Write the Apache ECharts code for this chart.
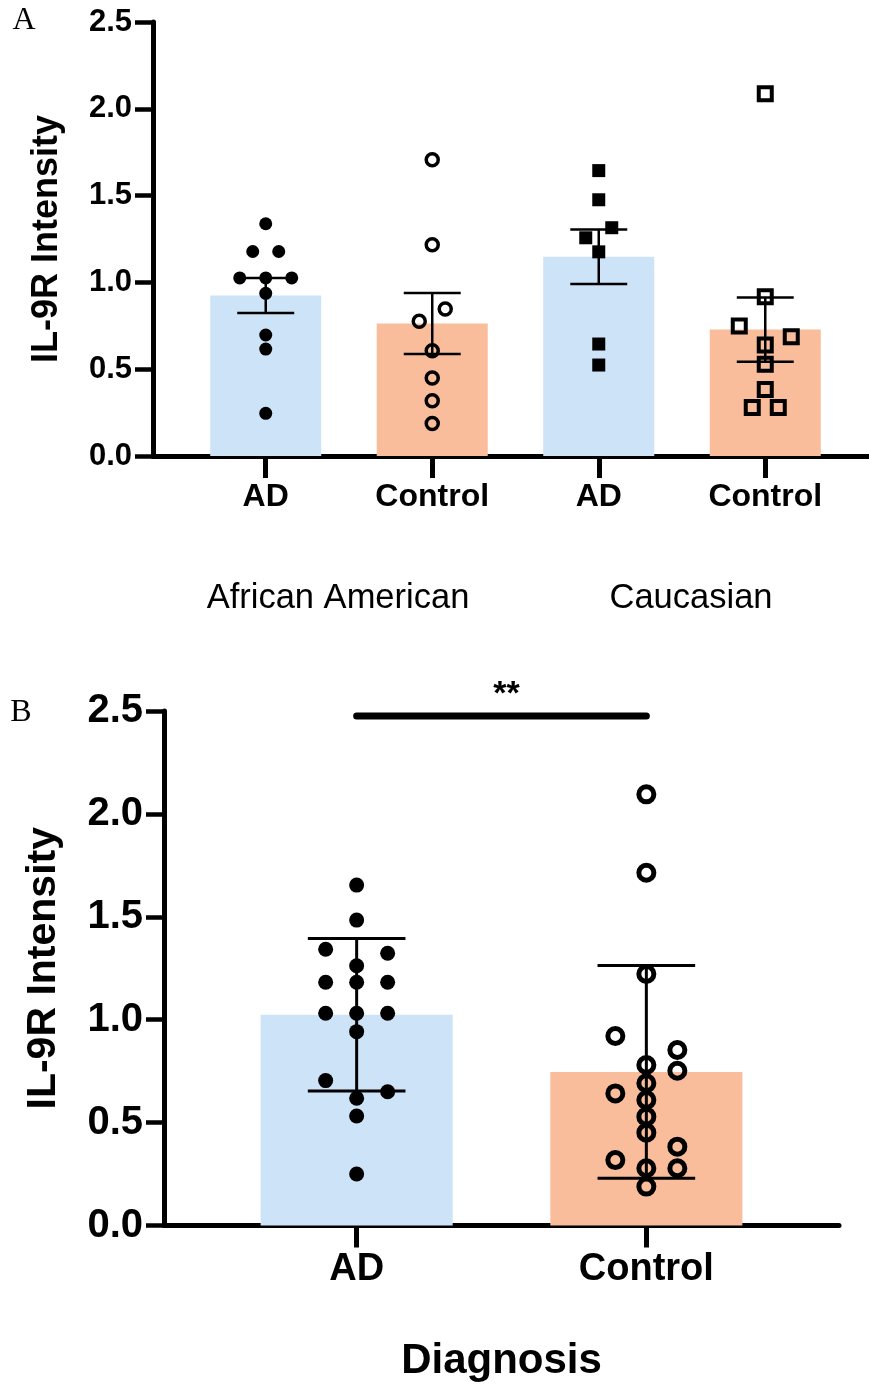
<!DOCTYPE html>
<html>
<head>
<meta charset="utf-8">
<script src="https://cdn.jsdelivr.net/npm/echarts@6/dist/echarts.min.js"></script>
<style>
  html, body { margin: 0; padding: 0; background: #fff; }
  #chart { width: 869px; height: 1384px; }
</style>
</head>
<body>
<div id="chart"></div>
<script>
// ---- panel A: by race ----
var groupsA = ['AD', 'Control', 'AD', 'Control'];
var raceLabels = ['African American', 'Caucasian'];
var meanA = [0.925, 0.763, 1.148, 0.728];
var semA = [0.101, 0.176, 0.157, 0.185];
// individual points (value) and their swarm column (slot)
var aaAD = [1.338, 1.178, 1.178, 1.026, 1.026, 1.026, 0.937, 0.697, 0.616, 0.246];
var aaADSlot = [0, -1, 1, -2, 0, 2, 0, 0, 0, 0];
var aaCtrl = [1.707, 1.217, 0.847, 0.776, 0.606, 0.449, 0.318, 0.187];
var aaCtrlSlot = [0, 0, 1, -1, 0, 0, 0, 0];
var caAD = [1.644, 1.476, 1.315, 1.257, 1.176, 0.645, 0.524];
var caADSlot = [0, 0, 1, -1, 0, 0, 0];
var caCtrl = [2.086, 0.918, 0.749, 0.687, 0.639, 0.529, 0.383, 0.279, 0.279];
var caCtrlSlot = [0, 0, -2, 2, 0, 0, 0, -1, 1];

// ---- panel B: pooled ----
var groupsB = ['AD', 'Control'];
var meanB = [1.024, 0.746];
var sdB = [0.370, 0.517];
var allAD = [1.654, 1.484, 1.342, 1.323, 1.262, 1.182, 1.182, 1.182, 1.031, 1.031, 1.031, 0.942, 0.704, 0.650, 0.618, 0.532, 0.250];
var allADSlot = [0, 0, -1, 1, 0, -1, 0, 1, -1, 0, 1, 0, -1, 1, 0, 0, 0];
var allCtrl = [2.095, 1.714, 1.222, 0.921, 0.853, 0.752, 0.780, 0.691, 0.642, 0.610, 0.529, 0.451, 0.383, 0.318, 0.278, 0.278, 0.189];
var allCtrlSlot = [0, 0, 0, -1, 1, 1, 0, 0, -1, 0, 0, 0, 1, -1, 0, 1, 0];
var sigPair = [0, 1];
var sigLevel = 2.476;
var sigText = '**';

var barColors = ['#CCE3F8', '#F9BD9B'];
var FONT = '"Liberation Sans", Arial, sans-serif';

function barItems(means) {
  return means.map(function (m, i) { return [i, m]; });
}
function errItems(means, errs) {
  return means.map(function (m, i) { return [i, m - errs[i], m + errs[i]]; });
}
function pointItems(gi, vals, slots, step) {
  return vals.map(function (v, i) {
    return { value: [gi, v], symbolOffset: [slots[i] * step, 0] };
  });
}

function makeBarRender(frac) {
  return function (params, api) {
    var top = api.coord([api.value(0), api.value(1)]);
    var base = api.coord([api.value(0), 0]);
    var w = api.size([frac, 0])[0];
    return {
      type: 'rect',
      shape: { x: top[0] - w / 2, y: top[1], width: w, height: base[1] - top[1] },
      style: { fill: barColors[params.dataIndex % 2] }
    };
  };
}
function makeErrRender(frac, lw) {
  return function (params, api) {
    var lo = api.coord([api.value(0), api.value(1)]);
    var hi = api.coord([api.value(0), api.value(2)]);
    var hw = api.size([frac, 0])[0] / 2;
    var st = { stroke: '#000', lineWidth: lw };
    return {
      type: 'group',
      children: [
        { type: 'line', shape: { x1: lo[0], y1: lo[1], x2: hi[0], y2: hi[1] }, style: st },
        { type: 'line', shape: { x1: hi[0] - hw, y1: hi[1], x2: hi[0] + hw, y2: hi[1] }, style: st },
        { type: 'line', shape: { x1: lo[0] - hw, y1: lo[1], x2: lo[0] + hw, y2: lo[1] }, style: st }
      ]
    };
  };
}

function yAxisCfg(gi, tickSize, nameSize, nameGap) {
  return {
    type: 'value', gridIndex: gi, min: 0, max: 2.5, interval: 0.5,
    name: 'IL-9R Intensity', nameLocation: 'middle', nameRotate: 90, nameGap: nameGap,
    nameTextStyle: { fontFamily: FONT, fontWeight: 'bold', fontSize: nameSize, color: '#000' },
    axisLine: { show: true, onZero: false, lineStyle: { color: '#000', width: 5 } },
    axisTick: { show: true, length: 18, lineStyle: { color: '#000', width: 4.5 } },
    axisLabel: {
      fontFamily: FONT, fontWeight: 'bold', fontSize: tickSize, color: '#000', margin: 21,
      formatter: function (v) { return v.toFixed(1); }
    },
    splitLine: { show: false }
  };
}
function xAxisCfg(gi, min, max, cats, labelSize) {
  var idx = cats.map(function (c, i) { return i; });
  return {
    type: 'value', gridIndex: gi, min: min, max: max,
    axisLine: { show: true, onZero: false, lineStyle: { color: '#000', width: 5 } },
    axisTick: { show: true, customValues: idx, length: 22, lineStyle: { color: '#000', width: 5 } },
    axisLabel: {
      customValues: idx, margin: 25,
      fontFamily: FONT, fontWeight: 'bold', fontSize: labelSize, color: '#000',
      formatter: function (v) { return cats[Math.round(v)]; }
    },
    splitLine: { show: false }
  };
}

var chart = echarts.init(document.getElementById('chart'), null, { renderer: 'canvas' });

var xB = xAxisCfg(1, -0.665, 1.665, groupsB, 38);
xB.name = 'Diagnosis';
xB.nameLocation = 'middle';
xB.nameGap = 115;
xB.nameTextStyle = { fontFamily: FONT, fontWeight: 'bold', fontSize: 42, color: '#000' };

var solid = { color: '#000', opacity: 1 };
function hollow(bw) {
  return { color: 'rgba(0,0,0,0)', borderColor: '#000', borderWidth: bw, opacity: 1 };
}

var option = {
  backgroundColor: '#fff',
  animation: false,
  grid: [
    { left: 153, top: 22, width: 716, height: 434, outerBoundsMode: 'none' },
    { left: 164, top: 711, width: 675, height: 514.5, outerBoundsMode: 'none' }
  ],
  xAxis: [xAxisCfg(0, -0.677, 3.623, groupsA, 32), xB],
  yAxis: [yAxisCfg(0, 31, 36, 88), yAxisCfg(1, 40, 41, 100)],
  graphic: [
    { type: 'text', x: 24, y: 21, style: { text: 'A', font: '32px "Liberation Serif", serif', fill: '#000', align: 'center', verticalAlign: 'middle' } },
    { type: 'text', x: 21, y: 713, style: { text: 'B', font: '32px "Liberation Serif", serif', fill: '#000', align: 'center', verticalAlign: 'middle' } },
    { type: 'text', x: 338, y: 598, style: { text: raceLabels[0], font: '34.5px ' + FONT, fill: '#000', align: 'center', verticalAlign: 'middle' } },
    { type: 'text', x: 691, y: 598, style: { text: raceLabels[1], font: '34.5px ' + FONT, fill: '#000', align: 'center', verticalAlign: 'middle' } }
  ],
  series: [
    // panel A
    { type: 'custom', xAxisIndex: 0, yAxisIndex: 0, z: 1, renderItem: makeBarRender(2 / 3), data: barItems(meanA) },
    { type: 'custom', xAxisIndex: 0, yAxisIndex: 0, z: 2, renderItem: makeErrRender(0.342, 2.5), data: errItems(meanA, semA) },
    { type: 'scatter', xAxisIndex: 0, yAxisIndex: 0, z: 3, symbol: 'circle', symbolSize: 13,
      itemStyle: solid, data: pointItems(0, aaAD, aaADSlot, 13) },
    { type: 'scatter', xAxisIndex: 0, yAxisIndex: 0, z: 3, symbol: 'circle', symbolSize: 12,
      itemStyle: hollow(3.5), data: pointItems(1, aaCtrl, aaCtrlSlot, 13) },
    { type: 'scatter', xAxisIndex: 0, yAxisIndex: 0, z: 3, symbol: 'rect', symbolSize: 13,
      itemStyle: solid, data: pointItems(2, caAD, caADSlot, 13) },
    { type: 'scatter', xAxisIndex: 0, yAxisIndex: 0, z: 3, symbol: 'rect', symbolSize: 13,
      itemStyle: hollow(4), data: pointItems(3, caCtrl, caCtrlSlot, 13) },
    // panel B
    { type: 'custom', xAxisIndex: 1, yAxisIndex: 1, z: 1, renderItem: makeBarRender(0.663), data: barItems(meanB) },
    { type: 'custom', xAxisIndex: 1, yAxisIndex: 1, z: 2, renderItem: makeErrRender(0.337, 3), data: errItems(meanB, sdB) },
    { type: 'scatter', xAxisIndex: 1, yAxisIndex: 1, z: 3, symbol: 'circle', symbolSize: 15,
      itemStyle: solid, data: pointItems(0, allAD, allADSlot, 31) },
    { type: 'scatter', xAxisIndex: 1, yAxisIndex: 1, z: 3, symbol: 'circle', symbolSize: 15,
      itemStyle: hollow(5), data: pointItems(1, allCtrl, allCtrlSlot, 31) },
    { type: 'custom', xAxisIndex: 1, yAxisIndex: 1, z: 4, clip: false,
      data: [[sigPair[0], sigPair[1], sigLevel]],
      renderItem: function (params, api) {
        var p0 = api.coord([api.value(0), api.value(2)]);
        var p1 = api.coord([api.value(1), api.value(2)]);
        return {
          type: 'group',
          children: [
            { type: 'line', shape: { x1: p0[0], y1: p0[1], x2: p1[0], y2: p1[1] },
              style: { stroke: '#000', lineWidth: 7, lineCap: 'round' } },
            { type: 'text', x: (p0[0] + p1[0]) / 2 + 5, y: p0[1] - 21,
              style: { text: sigText, font: 'bold 34px ' + FONT, fill: '#000', align: 'center', verticalAlign: 'middle' } }
          ]
        };
      }
    }
  ]
};
chart.setOption(option);
</script>
</body>
</html>
